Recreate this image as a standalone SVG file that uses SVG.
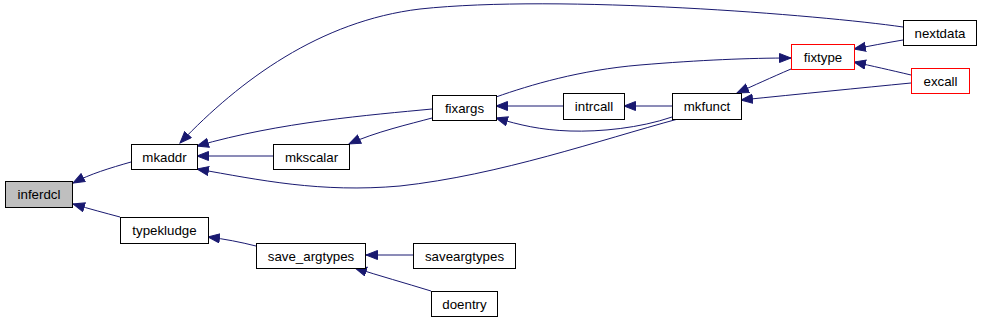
<svg xmlns="http://www.w3.org/2000/svg" width="981" height="319" viewBox="0 0 981 319">
<defs>
<style>
.n rect{fill:#fff;stroke:#000;stroke-width:1}
.n.r rect{stroke:#ff0000}
.n.g rect{fill:#bfbfbf}
.n text{font-family:"Liberation Sans",Arial,sans-serif;font-size:13.3px;fill:#000;text-anchor:middle}
.e path{fill:none;stroke:#191970;stroke-width:1;marker-end:url(#a)}
</style>
<marker id="a" markerUnits="userSpaceOnUse" markerWidth="13" markerHeight="11" refX="12" refY="5" orient="auto">
<path d="M0.5,0.5 L12,5 L0.5,9.5 Z" fill="#191970" stroke="#191970"/>
</marker>
</defs>
<rect width="981" height="319" fill="#fff"/>
<g id="edges" class="e">
<path d="M131,162 C110,168 90,174 73,183"/>
<path d="M120,217 C105,213 90,209 73,204"/>
<path d="M903,27 C820,15 560,-6 420,9 C320,21 240,80 180,143"/>
<path d="M432,109 C370,115 280,122 197,146"/>
<path d="M432,118 C410,124 375,132 349,144"/>
<path d="M273,156 L197,156"/>
<path d="M678,119 C600,140 500,175 400,186 C320,193 260,180 197,169"/>
<path d="M563,106 L496,106"/>
<path d="M672,117 C640,128 600,132 570,131 C540,130 520,125 496,118"/>
<path d="M672,106 L624,106"/>
<path d="M496,97 C530,85 580,70 640,65 C700,60 750,58 791,58"/>
<path d="M791,69 C770,78 755,85 737,93"/>
<path d="M911,83 C860,88 800,94 741,100"/>
<path d="M903,40 C885,43 870,46 854,49"/>
<path d="M911,75 C890,70 872,66 854,62"/>
<path d="M256,246 C240,242 225,239 208,237"/>
<path d="M413,255 L366,255"/>
<path d="M431,291 C405,283 380,276 355,268"/>
</g>
<g id="inferdcl" class="n g"><rect x="5.5" y="181.5" width="67" height="26"/><text x="39" y="199">inferdcl</text></g>
<g id="mkaddr" class="n"><rect x="131.5" y="144.5" width="66" height="25"/><text x="164.5" y="161.5">mkaddr</text></g>
<g id="mkscalar" class="n"><rect x="273.5" y="144.5" width="76" height="25"/><text x="311.5" y="161.5">mkscalar</text></g>
<g id="typekludge" class="n"><rect x="120.5" y="217.5" width="88" height="26"/><text x="164.5" y="235">typekludge</text></g>
<g id="save_argtypes" class="n"><rect x="256.5" y="243.5" width="109" height="25"/><text x="311" y="260.5">save_argtypes</text></g>
<g id="saveargtypes" class="n"><rect x="413.5" y="243.5" width="102" height="25"/><text x="464.5" y="260.5">saveargtypes</text></g>
<g id="doentry" class="n"><rect x="431.5" y="291.5" width="66" height="25"/><text x="464.5" y="308.5">doentry</text></g>
<g id="fixargs" class="n"><rect x="432.5" y="95.5" width="64" height="25"/><text x="464.5" y="112.5">fixargs</text></g>
<g id="intrcall" class="n"><rect x="563.5" y="93.5" width="61" height="26"/><text x="594" y="111">intrcall</text></g>
<g id="mkfunct" class="n"><rect x="672.5" y="93.5" width="69" height="26"/><text x="707" y="111">mkfunct</text></g>
<g id="fixtype" class="n r"><rect x="791.5" y="44.5" width="63" height="25"/><text x="823" y="61.5">fixtype</text></g>
<g id="nextdata" class="n"><rect x="903.5" y="20.5" width="73" height="25"/><text x="940" y="37.5">nextdata</text></g>
<g id="excall" class="n r"><rect x="911.5" y="68.5" width="58" height="25"/><text x="940.5" y="85.5">excall</text></g>
</svg>
